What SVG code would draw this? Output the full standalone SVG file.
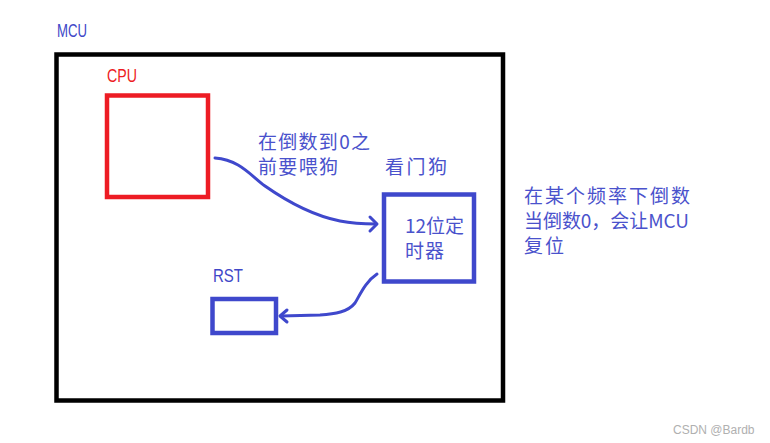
<svg xmlns="http://www.w3.org/2000/svg" width="770" height="443" viewBox="0 0 770 443">
<style>
.lat{font-family:"Liberation Sans","DejaVu Sans",sans-serif;font-size:17.5px}
.cjk{font-family:"Noto Sans CJK SC","Noto Sans",sans-serif;font-size:19px;fill:#4a52cc}
.blue{fill:#4048c8}
.box{fill:none;stroke-width:4.5}
.conn{fill:none;stroke:#3f48cc;stroke-width:3;stroke-linecap:round;stroke-linejoin:round}
</style>
<rect width="770" height="443" fill="#ffffff"/>
<g id="mcu">
<rect x="56.5" y="54.5" width="446.5" height="346" fill="none" stroke="#000000" stroke-width="4.5"/>
<text class="lat blue" x="57" y="37" textLength="30" lengthAdjust="spacingAndGlyphs">MCU</text>
</g>
<g id="cpu">
<rect class="box" x="107" y="95.5" width="101" height="101.5" stroke="#ed1c24"/>
<text class="lat" x="107" y="82" fill="#ed1c24" textLength="30" lengthAdjust="spacingAndGlyphs">CPU</text>
</g>
<g id="watchdog">
<rect class="box" x="384" y="194.5" width="90" height="87" stroke="#3f48cc"/>
<text class="cjk" x="385" y="174" textLength="62">看门狗</text>
<text class="cjk" x="405" y="233" textLength="59">12位定</text>
<text class="cjk" x="405" y="258" textLength="39">时器</text>
</g>
<g id="rst">
<rect class="box" x="212.5" y="299" width="63.5" height="34" stroke="#3f48cc"/>
<text class="lat blue" x="213" y="282" textLength="30" lengthAdjust="spacingAndGlyphs">RST</text>
</g>
<g id="note">
<text class="cjk" x="524" y="203" textLength="166">在某个频率下倒数</text>
<text class="cjk" x="524" y="228" textLength="165">当倒数0，会让MCU</text>
<text class="cjk" x="524" y="253" textLength="40">复位</text>
</g>
<g id="connectors">
<path class="conn" d="M215,158 C240,160 250,175 265,186 C285,200 310,215 340,221 C355,224 365,224 376,224"/>
<polyline class="conn" points="370,217 377,224 370,231"/>
<path class="conn" d="M377,274 C365,282 360,295 355,303 C348,312 335,314 320,315 L281,316"/>
<polyline class="conn" points="287,310 280,316 287,322"/>
<text class="cjk" x="258" y="149" textLength="112">在倒数到0之</text>
<text class="cjk" x="258" y="174" textLength="80">前要喂狗</text>
</g>
<text x="673" y="434" font-family="Liberation Sans, sans-serif" font-size="12" fill="#b0b0b0">CSDN @Bardb</text>
</svg>
